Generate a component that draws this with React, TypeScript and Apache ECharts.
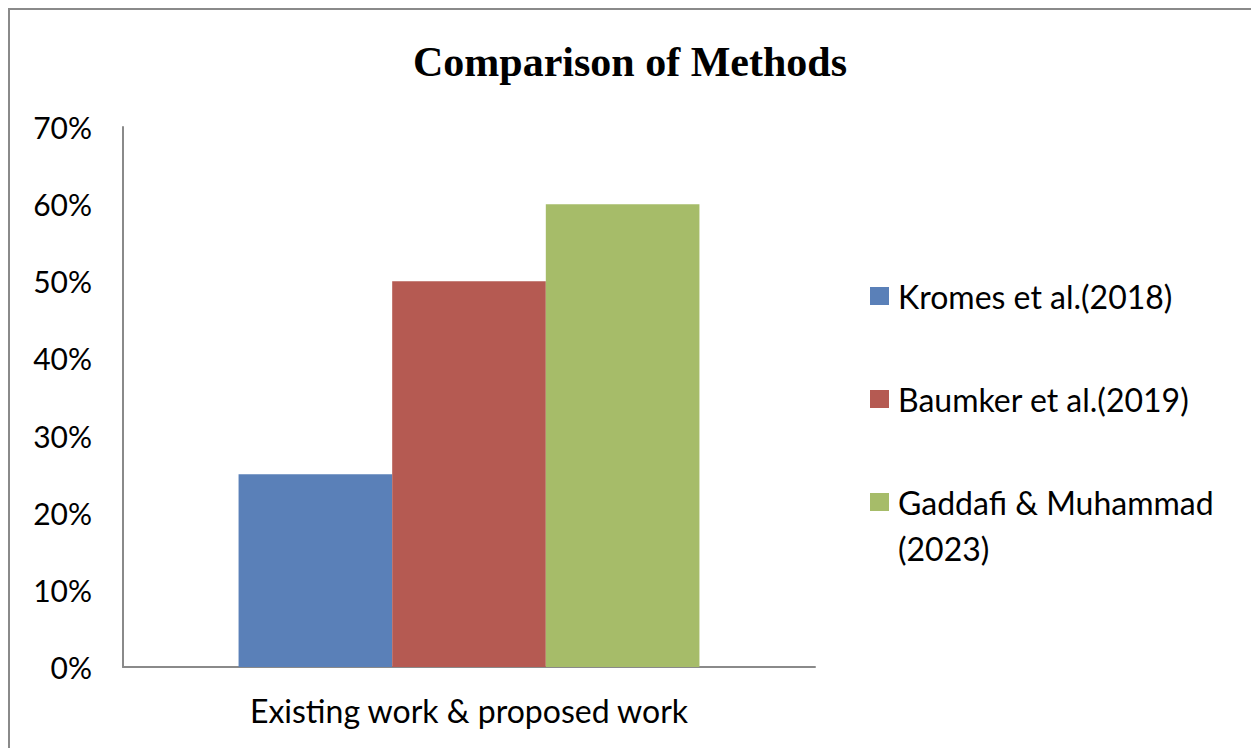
import React, { useEffect, useRef } from "react";
import * as echarts from "echarts";

const categories = ["Existing work & proposed work"];
const seriesNames = ["Kromes et al.(2018)", "Baumker et al.(2019)", "Gaddafi & Muhammad (2023)"];
const seriesValues = [[25], [50], [60]];
const seriesColors = ["#5A80B8", "#B55A52", "#A6BC69"];
const yTicks = [0, 10, 20, 30, 40, 50, 60, 70];

const FONT = "Lato, 'Open Sans', sans-serif";

export default function App() {
  const ref = useRef<HTMLDivElement>(null);
  useEffect(() => {
    if (!ref.current) return;
    const chart = echarts.init(ref.current, undefined, { renderer: "svg" });
    const legendBase = {
      orient: "vertical" as const,
      left: 870,
      padding: 0,
      itemWidth: 19,
      itemHeight: 18,
      icon: "rect",
      textStyle: { fontFamily: FONT, fontSize: 32, color: "#000", lineHeight: 46, padding: [0, 0, 0, 4] },
      selectedMode: false,
    };
    chart.setOption({
      animation: false,
      backgroundColor: "#fff",
      graphic: [
        {
          type: "rect",
          shape: { x: 9, y: 9, width: 1400, height: 900 },
          style: { fill: "none", stroke: "#8a8a8a", lineWidth: 2 },
          silent: true,
        },
        {
          type: "text",
          x: 630,
          y: 62,
          style: {
            text: "Comparison of Methods",
            font: "bold 42px 'Liberation Serif', 'Times New Roman', serif",
            fill: "#000",
            align: "center",
            verticalAlign: "middle",
          },
        },
      ],
      legend: [
        { ...legendBase, top: 296 - 23, data: [seriesNames[0]] },
        { ...legendBase, top: 399 - 23, data: [seriesNames[1]] },
        {
          ...legendBase,
          top: 502 - 69,
          data: [seriesNames[2]],
          formatter: (n: string) => " \n" + n.replace(" (", "\n("),
        },
      ],
      grid: { left: 123, right: 436, top: 127, bottom: 81, containLabel: false },
      xAxis: {
        type: "category",
        data: categories,
        axisLine: { lineStyle: { color: "#8a8a8a", width: 2 } },
        axisTick: { show: false },
        axisLabel: { fontFamily: FONT, fontSize: 32, color: "#000", margin: 27 },
      },
      yAxis: {
        type: "value",
        min: yTicks[0],
        max: yTicks[yTicks.length - 1],
        interval: 10,
        axisLine: { show: true, lineStyle: { color: "#8a8a8a", width: 2 } },
        axisTick: { show: false },
        splitLine: { show: false },
        axisLabel: { fontFamily: FONT, fontSize: 30, color: "#000", margin: 31, formatter: "{value}%" },
      },
      series: seriesNames.map((name, i) => ({
        name,
        type: "bar",
        data: seriesValues[i],
        itemStyle: { color: seriesColors[i] },
        barGap: "0%",
        barCategoryGap: "33.4%",
      })),
    });
    return () => chart.dispose();
  }, []);
  return <div ref={ref} style={{ position: "fixed", left: 0, top: 0, width: 1251, height: 748 }} />;
}
